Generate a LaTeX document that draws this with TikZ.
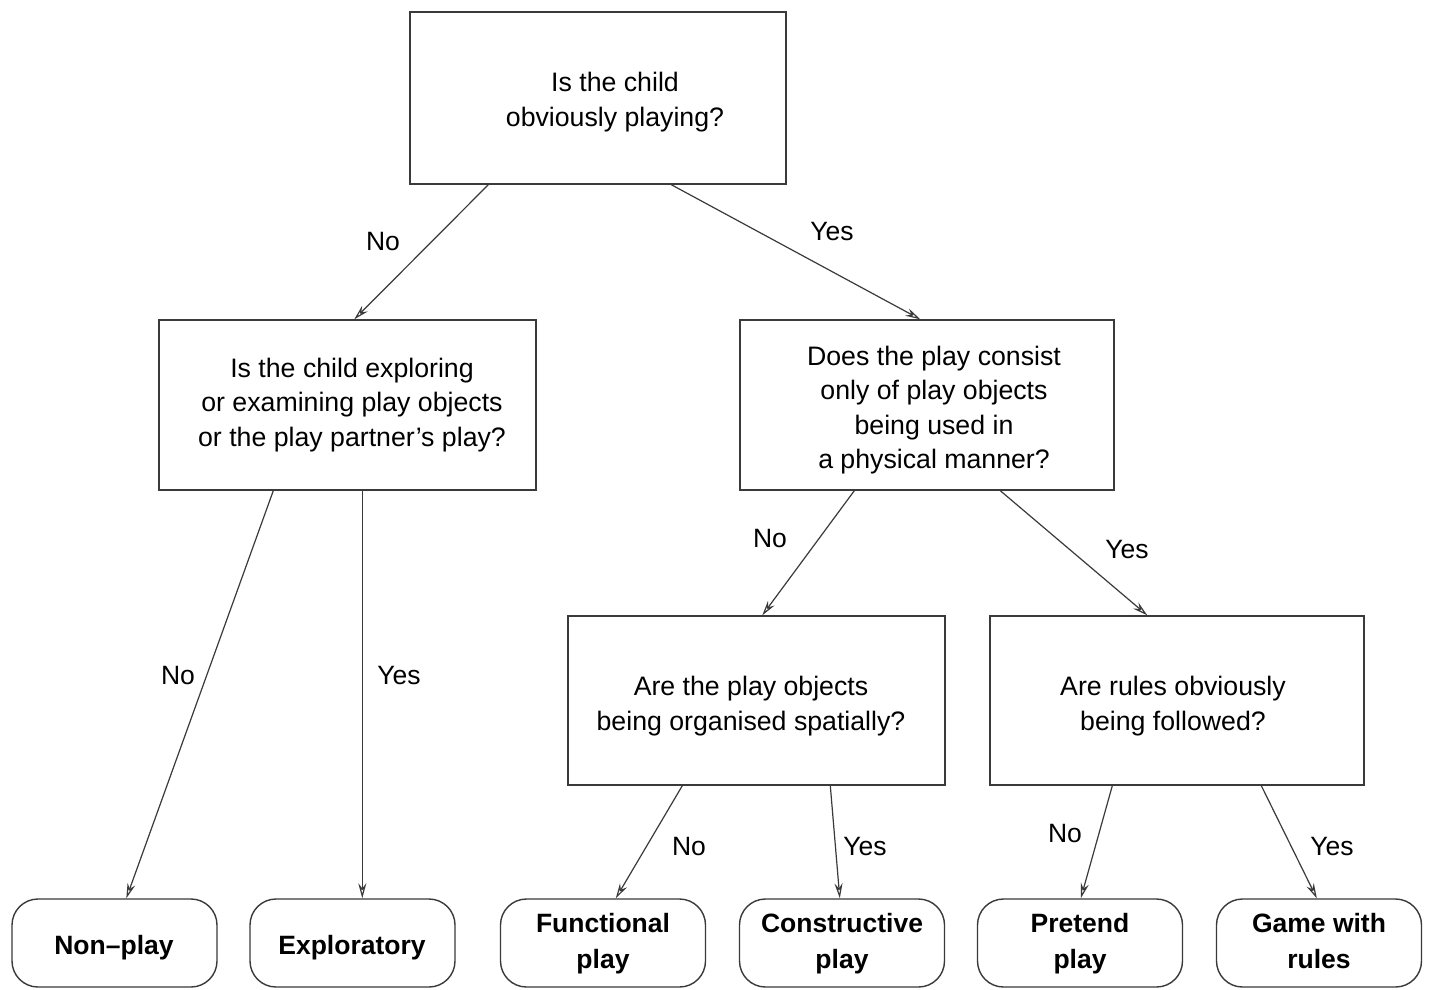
\documentclass[tikz,border=0pt]{standalone}
\usepackage{fontspec}
\setmainfont{Liberation Sans}
\usetikzlibrary{arrows.meta}
\definecolor{linec}{HTML}{3A3A3A}
\begin{document}
\begin{tikzpicture}[x=1pt,y=-1pt,
  qbox/.style={draw=linec, line width=1.4pt, inner sep=0pt, fill=white},
  leaf/.style={draw=linec, line width=1.4pt, inner sep=0pt, rounded corners=26pt, minimum width=205pt, minimum height=88pt},
  qtext/.style={align=center, font=\fontsize{26.7}{34.5}\selectfont, inner sep=0pt},
  ltext/.style={align=center, font=\fontsize{26.5}{36}\selectfont\bfseries, inner sep=0pt},
  lbl/.style={font=\fontsize{26.5}{30}\selectfont, inner sep=0pt},
  arr/.style={draw=linec, line width=1.2pt, -{Stealth[length=15pt,width=8pt,inset=5pt,open]}}]
\useasboundingbox[fill=white] (0,0) rectangle (1431,989);
% question boxes
\node[qbox, minimum width=376pt, minimum height=172pt] (top) at (598,98) {};
\node[qbox, minimum width=377pt, minimum height=170pt] (q1) at (347.5,405) {};
\node[qbox, minimum width=374pt, minimum height=170pt] (q2) at (927,405) {};
\node[qbox, minimum width=377pt, minimum height=169pt] (q3) at (756.5,700.5) {};
\node[qbox, minimum width=374pt, minimum height=169pt] (q4) at (1177,700.5) {};
% question texts
\node[qtext] (ttop) at (615,102) {Is the child\\obviously playing?};
\node[qtext] (tq1) at (352,405) {Is the child exploring\\or examining play objects\\or the play partner's play?};
\node[qtext] (tq2) at (934,410) {Does the play consist\\only of play objects\\being used in\\a physical manner?};
\node[qtext] (tq3) at (751,706) {Are the play objects\\being organised spatially?};
\node[qtext] (tq4) at (1173,706) {Are rules obviously\\being followed?};
% leaves
\node[leaf] (f1) at (114.5,943) {};
\node[leaf] (f2) at (352.5,943) {};
\node[leaf] (f3) at (603,943) {};
\node[leaf] (f4) at (842,943) {};
\node[leaf] (f5) at (1080,943) {};
\node[leaf] (f6) at (1319,943) {};
\node[ltext] (tf1) at (114,948) {Non--play};
\node[ltext] (tf2) at (352,948) {Exploratory};
\node[ltext] (tf3) at (603,944) {Functional\\play};
\node[ltext] (tf4) at (842,944) {Constructive\\play};
\node[ltext] (tf5) at (1080,944) {Pretend\\play};
\node[ltext] (tf6) at (1319,941) {Game with\\rules};
% connectors
\draw[arr] ([xshift=79pt]top.south west) -- ([xshift=196pt]q1.north west);
\draw[arr] ([xshift=262pt]top.south west) -- ([xshift=181pt]q2.north west);
\draw[arr] ([xshift=115pt]q1.south west) -- ([xshift=115pt]f1.north west);
\draw[arr] ([xshift=204pt]q1.south west) -- ([xshift=113pt]f2.north west);
\draw[arr] ([xshift=115pt]q2.south west) -- ([xshift=195pt]q3.north west);
\draw[arr] ([xshift=261pt]q2.south west) -- ([xshift=158pt]q4.north west);
\draw[arr] ([xshift=115pt]q3.south west) -- ([xshift=116pt]f3.north west);
\draw[arr] ([xshift=263pt]q3.south west) -- ([xshift=101pt]f4.north west);
\draw[arr] ([xshift=123pt]q4.south west) -- ([xshift=104pt]f5.north west);
\draw[arr] ([xshift=272pt]q4.south west) -- ([xshift=101pt]f6.north west);
% labels
\node[lbl] (l1) at (383,242) {No};
\node[lbl] (l2) at (832,232) {Yes};
\node[lbl] (l3) at (178,675) {No};
\node[lbl] (l4) at (399,675) {Yes};
\node[lbl] (l5) at (770,538) {No};
\node[lbl] (l6) at (1127,550) {Yes};
\node[lbl] (l7) at (689,846) {No};
\node[lbl] (l8) at (865,846) {Yes};
\node[lbl] (l9) at (1065,833) {No};
\node[lbl] (l10) at (1332,846) {Yes};
\end{tikzpicture}
\end{document}
